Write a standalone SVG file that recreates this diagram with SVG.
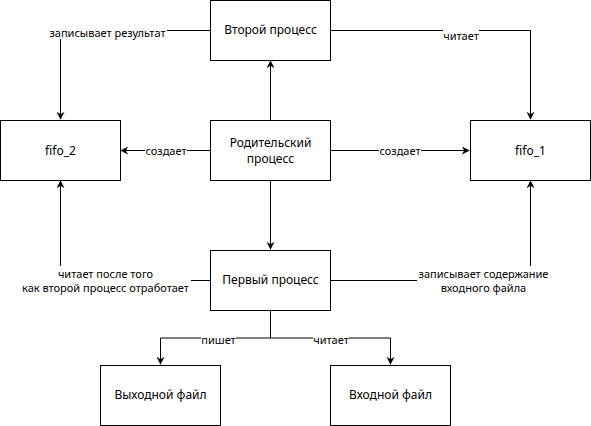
<svg xmlns="http://www.w3.org/2000/svg" width="591" height="426" viewBox="0 0 591 426">
<defs>
<style>
.box{fill:#fff;stroke:#000;stroke-width:1}
.nt{font-family:"Noto Sans","Open Sans",sans-serif;font-size:12px;fill:#000;text-anchor:middle}
.lt{font-family:"Noto Sans","Open Sans",sans-serif;font-size:11px;fill:#000;text-anchor:middle}
.edge{fill:none;stroke:#000;stroke-width:1}
.lbg{fill:#fff}
</style>
<marker id="arr" viewBox="0 0 10 10" refX="9" refY="5" markerWidth="8" markerHeight="8" markerUnits="userSpaceOnUse" orient="auto">
<path d="M0,0 L10,5 L0,10 L3,5 Z" fill="#000"/>
</marker>
</defs>
<rect width="591" height="426" fill="#fff"/>
<g id="connectors">
<path class="edge" d="M210.5,30.5 H60.5 V119" marker-end="url(#arr)"/>
<path class="edge" d="M330.5,30.5 H530.5 V119" marker-end="url(#arr)"/>
<path class="edge" d="M270.5,120 V61" marker-end="url(#arr)"/>
<path class="edge" d="M210,150.5 H121" marker-end="url(#arr)"/>
<path class="edge" d="M330,150.5 H469" marker-end="url(#arr)"/>
<path class="edge" d="M270.5,180 V249" marker-end="url(#arr)"/>
<path class="edge" d="M210,280.5 H60.5 V181" marker-end="url(#arr)"/>
<path class="edge" d="M330,280.5 H530.5 V181" marker-end="url(#arr)"/>
<path class="edge" d="M270.5,310 V338 H160.5 V364" marker-end="url(#arr)"/>
<path class="edge" d="M270.5,338 H390.5 V364" marker-end="url(#arr)"/>
<rect class="lbg" x="48" y="26" width="119" height="13"/>
<text class="lt" x="107.5" y="37">записывает результат</text>
<rect class="lbg" x="443" y="29" width="36" height="13"/>
<text class="lt" x="461" y="40">читает</text>
<rect class="lbg" x="145" y="144" width="42" height="13"/>
<text class="lt" x="166" y="155">создает</text>
<rect class="lbg" x="379" y="144" width="42" height="13"/>
<text class="lt" x="400" y="155">создает</text>
<rect class="lbg" x="20" y="266" width="171" height="28"/>
<text class="lt" x="105.5" y="278">читает после того</text>
<text class="lt" x="105.5" y="292">как второй процесс отработает</text>
<rect class="lbg" x="417" y="266" width="133" height="28"/>
<text class="lt" x="483.5" y="278">записывает содержание</text>
<text class="lt" x="483.5" y="292">входного файла</text>
<rect class="lbg" x="201" y="334" width="35" height="12"/>
<text class="lt" x="218.5" y="344">пишет</text>
<rect class="lbg" x="313" y="334" width="36" height="12"/>
<text class="lt" x="331" y="344">читает</text>
</g>
<g id="node-second"><rect class="box" x="210.5" y="0.5" width="120" height="60"/><text class="nt" x="270.5" y="34">Второй процесс</text></g>
<g id="node-fifo2"><rect class="box" x="0.5" y="120.5" width="120" height="60"/><text class="nt" x="60.5" y="155">fifo_2</text></g>
<g id="node-parent"><rect class="box" x="210.5" y="120.5" width="120" height="60"/><text class="nt" x="270.5" y="146.5">Родительский</text><text class="nt" x="270.5" y="162.5">процесс</text></g>
<g id="node-fifo1"><rect class="box" x="470.5" y="120.5" width="120" height="60"/><text class="nt" x="530.5" y="155">fifo_1</text></g>
<g id="node-first"><rect class="box" x="210.5" y="250.5" width="120" height="60"/><text class="nt" x="270.5" y="284">Первый процесс</text></g>
<g id="node-out"><rect class="box" x="100.5" y="365.5" width="120" height="60"/><text class="nt" x="160.5" y="399">Выходной файл</text></g>
<g id="node-in"><rect class="box" x="330.5" y="365.5" width="120" height="60"/><text class="nt" x="390.5" y="399">Входной файл</text></g>
</svg>
